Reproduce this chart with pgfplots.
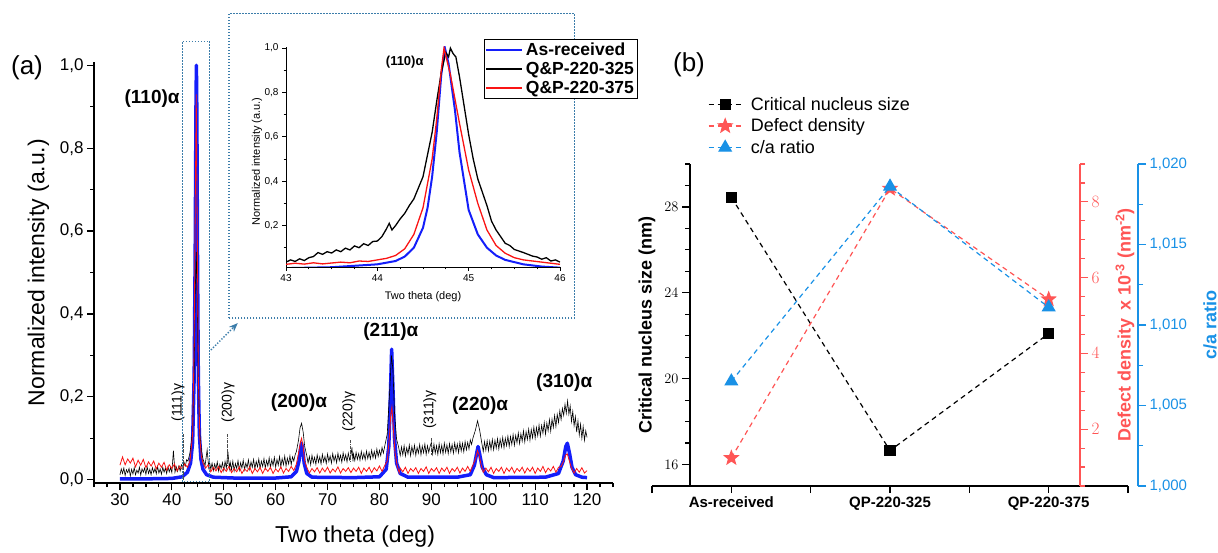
\documentclass[border=0pt]{standalone}
\usepackage{fontspec}
\setmainfont{Liberation Sans}
\usepackage{pgfplots}
\pgfplotsset{compat=1.18}
\usetikzlibrary{arrows.meta}
\newcommand\fs[1]{\fontsize{#1}{#1}\selectfont}
\definecolor{xblue}{RGB}{20,30,250}
\definecolor{xred}{RGB}{250,20,20}
\definecolor{dotbox}{RGB}{60,125,170}
\definecolor{dred}{RGB}{255,85,85}
\definecolor{dblue}{RGB}{25,145,230}
\pgfdeclareplotmark{fstar}{%
  \pgfpathmoveto{\pgfpointpolar{90}{\pgfplotmarksize}}%
  \pgfpathlineto{\pgfpointpolar{126}{0.42\pgfplotmarksize}}%
  \pgfpathlineto{\pgfpointpolar{162}{\pgfplotmarksize}}%
  \pgfpathlineto{\pgfpointpolar{198}{0.42\pgfplotmarksize}}%
  \pgfpathlineto{\pgfpointpolar{234}{\pgfplotmarksize}}%
  \pgfpathlineto{\pgfpointpolar{270}{0.42\pgfplotmarksize}}%
  \pgfpathlineto{\pgfpointpolar{306}{\pgfplotmarksize}}%
  \pgfpathlineto{\pgfpointpolar{342}{0.42\pgfplotmarksize}}%
  \pgfpathlineto{\pgfpointpolar{18}{\pgfplotmarksize}}%
  \pgfpathlineto{\pgfpointpolar{54}{0.42\pgfplotmarksize}}%
  \pgfpathclose\pgfusepathqfillstroke}

\begin{document}
\begin{tikzpicture}
\path[use as bounding box] (0pt,0pt) rectangle (1218pt,552pt);
\node[font=\fs{26}] at (27pt,484pt) {(a)};
\node[font=\fs{26}] at (689pt,487pt) {(b)};

% ---------------- panel (a) main pattern
\begin{axis}[
  at={(94pt,69pt)}, anchor=south west, scale only axis,
  width=519pt, height=421pt,
  xmin=25, xmax=125, ymin=-0.008, ymax=1.008,
  axis x line*=bottom, axis y line*=left,
  axis line style={line width=1.3pt},
  xtick={30,40,...,120}, minor xtick={25,27.5,...,125},
  ytick={0,0.2,0.4,0.6,0.8,1.0}, minor ytick={0.1,0.3,0.5,0.7,0.9},
  tick align=outside, major tick length=7pt, minor tick length=4pt,
  tick style={black, line width=1.2pt},
  tick label style={font=\fs{17}},
  /pgf/number format/assume math mode=true,
  yticklabel style={/pgf/number format/.cd, fixed, fixed zerofill, precision=1, use comma},
  xlabel={Two theta (deg)}, ylabel={Normalized intensity (a.u.)},
  every axis x label/.style={at={(axis description cs:0.503,-0.128)}, anchor=center, font=\fs{23}},
  every axis y label/.style={at={(axis description cs:-0.107,0.5)}, rotate=90, anchor=center, font=\fs{23}},
  clip=false,
]
\addplot[xblue, line width=3.5pt, line join=round] coordinates {
(30,.002)(35,.002)(40,.003)(42,.007)(43,.018)(43.6,.040)(44.0,.090)(44.3,.250)(44.5,.550)
(44.65,.900)(44.73,1.000)(44.82,.880)(44.95,.520)(45.1,.250)(45.3,.110)(45.6,.050)(46.0,.025)
(46.7,.012)(48,.006)(52,.004)(60,.004)(63,.007)(64,.020)(64.5,.045)(64.8,.075)(65.0,.088)
(65.2,.075)(65.5,.040)(66.0,.015)(67,.006)(75,.005)(80,.007)(81.3,.025)(81.8,.080)(82.1,.200)
(82.35,.315)(82.6,.220)(82.9,.100)(83.3,.040)(84,.015)(85.5,.006)(95,.006)(97.5,.012)(98.3,.035)
(98.8,.068)(99.0,.080)(99.3,.062)(99.8,.030)(100.6,.012)(102,.005)(112,.006)(114.5,.015)
(115.4,.045)(115.9,.080)(116.2,.088)(116.6,.065)(117.1,.030)(117.8,.012)(119,.006)(120,.005)};
\addplot[black, line width=0.6pt] coordinates {
(30.00,.012)(30.25,.026)(30.50,.015)(30.75,.028)(31.00,.010)(31.25,.024)(31.50,.017)(31.75,.027)
(32.00,.009)(32.25,.025)(32.50,.014)(32.75,.029)(33.00,.012)(33.25,.023)(33.50,.016)(33.75,.030)
(34.00,.011)(34.25,.026)(34.50,.018)(34.75,.028)(35.00,.013)(35.25,.031)(35.50,.015)(35.75,.025)
(36.00,.012)(36.25,.029)(36.50,.017)(36.75,.027)(37.00,.014)(37.25,.032)(37.50,.016)(37.75,.026)
(38.00,.013)(38.25,.030)(38.50,.018)(38.75,.028)(39.00,.015)(39.25,.031)(39.50,.019)(39.75,.029)
(40.00,.017)(40.30,.070)(40.60,.018)(40.85,.031)(41.10,.020)(41.35,.033)(41.60,.021)(41.85,.036)
(42.10,.030)(42.35,.042)(42.60,.033)(42.85,.048)(43.10,.045)(43.50,.065)
(44.0,.120)(44.3,.260)(44.5,.450)(44.7,.550)(44.9,.430)(45.1,.230)(45.4,.110)(45.7,.070)
(46.0,.050)(46.4,.034)(46.8,.072)(47.1,.030)
(47.25,.044)(47.50,.025)(47.75,.040)(48.00,.022)(48.25,.038)(48.50,.026)(48.75,.043)(49.00,.021)
(49.25,.037)(49.50,.027)(49.75,.041)(50.00,.022)(50.25,.044)(50.50,.028)(50.80,.068)(51.10,.026)
(51.25,.042)(51.50,.024)(51.75,.045)(52.00,.021)(52.25,.039)(52.50,.027)(52.75,.046)(53.00,.023)
(53.25,.041)(53.50,.028)(53.75,.047)(54.00,.024)(54.25,.040)(54.50,.029)(54.75,.048)(55.00,.025)
(55.25,.043)(55.50,.030)(55.75,.049)(56.00,.026)(56.25,.044)(56.50,.031)(56.75,.050)(57.00,.027)
(57.25,.045)(57.50,.032)(57.75,.051)(58.00,.028)(58.25,.046)(58.50,.033)(58.75,.053)(59.00,.029)
(59.25,.048)(59.50,.034)(59.75,.054)(60.00,.030)(60.25,.049)(60.50,.035)(60.75,.056)(61.00,.031)
(61.25,.051)(61.50,.036)(61.75,.057)(62.00,.033)(62.25,.052)(62.50,.038)(62.75,.058)(63.00,.036)
(63.25,.055)(63.50,.045)(63.75,.060)(64.00,.068)
(64.4,.095)(64.7,.125)(65.0,.136)(65.3,.115)(65.6,.080)(66.0,.058)
(66.25,.040)(66.50,.056)(66.75,.036)(67.00,.059)(67.25,.041)(67.50,.054)(67.75,.037)(68.00,.060)
(68.25,.042)(68.50,.055)(68.75,.038)(69.00,.061)(69.25,.043)(69.50,.056)(69.75,.039)(70.00,.062)
(70.25,.044)(70.50,.057)(70.75,.040)(71.00,.063)(71.25,.045)(71.50,.058)(71.75,.041)(72.00,.064)
(72.25,.046)(72.50,.059)(72.75,.042)(73.00,.065)(73.25,.047)(73.50,.060)(73.75,.043)(74.00,.064)
(74.25,.048)(74.50,.058)(74.70,.078)(74.90,.044)(75.00,.062)(75.25,.046)(75.50,.066)(75.75,.049)
(76.00,.063)(76.25,.047)(76.50,.068)(76.75,.050)(77.00,.064)(77.25,.048)(77.50,.069)(77.75,.051)
(78.00,.066)(78.25,.050)(78.50,.071)(78.75,.053)(79.00,.068)(79.25,.052)(79.50,.074)(79.75,.056)
(80.00,.071)(80.25,.058)(80.50,.078)(80.75,.064)(81.00,.080)
(81.5,.110)(82.0,.220)(82.3,.300)(82.6,.265)(82.9,.160)(83.3,.098)(83.7,.078)(84.0,.058)
(84.25,.079)(84.50,.060)(84.75,.082)(85.00,.057)(85.25,.077)(85.50,.062)(85.75,.084)(86.00,.058)
(86.25,.080)(86.50,.063)(86.75,.083)(87.00,.059)(87.25,.078)(87.50,.064)(87.75,.085)(88.00,.060)
(88.25,.081)(88.50,.065)(88.75,.086)(89.00,.061)(89.25,.082)(89.50,.066)(89.75,.080)(90.00,.090)
(90.25,.062)(90.50,.086)(90.75,.064)(91.00,.082)(91.25,.061)(91.50,.087)(91.75,.065)(92.00,.083)
(92.25,.062)(92.50,.088)(92.75,.066)(93.00,.084)(93.25,.063)(93.50,.087)(93.75,.067)(94.00,.085)
(94.25,.064)(94.50,.089)(94.75,.068)(95.00,.086)(95.25,.065)(95.50,.090)(95.75,.069)(96.00,.088)
(96.25,.067)(96.50,.092)(96.75,.072)(97.00,.090)(97.25,.074)(97.50,.096)(97.75,.085)(98.00,.100)
(98.5,.120)(98.9,.142)(99.3,.120)(99.7,.090)
(100.00,.068)(100.25,.092)(100.50,.071)(100.75,.094)(101.00,.070)(101.25,.093)(101.50,.073)(101.75,.097)
(102.00,.072)(102.25,.095)(102.50,.076)(102.75,.099)(103.00,.074)(103.25,.098)(103.50,.079)(103.75,.102)
(104.00,.077)(104.25,.100)(104.50,.082)(104.75,.105)(105.00,.080)(105.25,.104)(105.50,.085)(105.75,.109)
(106.00,.083)(106.25,.107)(106.50,.089)(106.75,.113)(107.00,.087)(107.25,.111)(107.50,.093)(107.75,.118)
(108.00,.091)(108.25,.116)(108.50,.097)(108.75,.122)(109.00,.095)(109.25,.121)(109.50,.101)(109.75,.127)
(110.00,.100)(110.25,.126)(110.50,.106)(110.75,.132)(111.00,.105)(111.25,.131)(111.50,.112)(111.75,.138)
(112.00,.110)(112.25,.137)(112.50,.118)(112.75,.145)(113.00,.117)(113.25,.146)(113.50,.126)(113.75,.155)
(114.00,.128)(114.25,.158)(114.50,.138)(114.75,.166)(115.00,.145)(115.25,.172)(115.50,.155)(115.75,.182)
(116.00,.160)(116.25,.190)(116.50,.158)(116.75,.178)(117.00,.140)(117.25,.165)(117.50,.130)(117.75,.152)
(118.00,.115)(118.25,.142)(118.50,.108)(118.75,.134)(119.00,.100)(119.25,.128)(119.50,.095)(119.75,.118)
(120.00,.102)};
\addplot[xred, line width=0.8pt] coordinates {
(30.0,.035)(30.5,.055)(31.0,.036)(31.5,.050)(32.0,.040)(32.5,.052)(33.0,.031)(33.5,.047)
(34.0,.035)(34.5,.049)(35.0,.029)(35.5,.043)(36.0,.033)(36.5,.045)(37.0,.026)(37.5,.040)
(38.0,.030)(38.5,.042)(39.0,.023)(39.5,.036)(40.0,.027)(40.5,.038)(41.0,.021)(41.5,.033)
(42.0,.025)(42.5,.038)(43.0,.030)(43.5,.045)(44.0,.110)(44.3,.330)(44.5,.650)(44.7,.930)
(44.9,.600)(45.1,.250)(45.4,.100)(45.7,.055)(46.0,.040)(46.5,.028)(47.0,.036)(47.5,.019)
(48.0,.030)(48.5,.021)(49.0,.032)(49.5,.017)(50.0,.028)(50.5,.020)(51.0,.032)(51.5,.017)
(52.0,.027)(52.5,.019)(53.0,.031)(53.5,.015)(54.0,.026)(54.5,.020)(55.0,.031)(55.5,.015)
(56.0,.027)(56.5,.019)(57.0,.030)(57.5,.015)(58.0,.028)(58.5,.020)(59.0,.030)(59.5,.015)
(60.0,.026)(60.5,.019)(61.0,.031)(61.5,.016)(62.0,.027)(62.5,.020)(63.0,.032)(63.5,.022)
(64.0,.038)(64.5,.070)(64.8,.092)(65.0,.100)(65.3,.078)(65.6,.045)(66.0,.030)(66.5,.016)
(67.0,.027)(67.5,.019)(68.0,.029)(68.5,.016)(69.0,.028)(69.5,.019)(70.0,.030)(70.5,.016)
(71.0,.026)(71.5,.019)(72.0,.031)(72.5,.016)(73.0,.027)(73.5,.020)(74.0,.029)(74.5,.017)
(75.0,.028)(75.5,.020)(76.0,.030)(76.5,.015)(77.0,.028)(77.5,.020)(78.0,.030)(78.5,.017)
(79.0,.029)(79.5,.021)(80.0,.033)(80.5,.020)(81.0,.034)(81.5,.045)(81.9,.100)(82.2,.160)
(82.4,.175)(82.7,.120)(83.0,.065)(83.4,.035)(83.8,.017)(84.0,.028)(84.5,.019)(85.0,.030)
(85.5,.015)(86.0,.027)(86.5,.020)(87.0,.029)(87.5,.015)(88.0,.027)(88.5,.020)(89.0,.031)
(89.5,.015)(90.0,.027)(90.5,.020)(91.0,.029)(91.5,.015)(92.0,.028)(92.5,.020)(93.0,.030)
(93.5,.015)(94.0,.027)(94.5,.020)(95.0,.030)(95.5,.016)(96.0,.028)(96.5,.020)(97.0,.032)
(97.5,.020)(98.0,.035)(98.5,.050)(98.9,.070)(99.2,.060)(99.6,.035)(100.0,.018)(100.5,.028)
(101.0,.019)(101.5,.030)(102.0,.015)(102.5,.027)(103.0,.020)(103.5,.030)(104.0,.015)(104.5,.028)
(105.0,.020)(105.5,.030)(106.0,.016)(106.5,.027)(107.0,.020)(107.5,.030)(108.0,.016)(108.5,.028)
(109.0,.020)(109.5,.030)(110.0,.015)(110.5,.028)(111.0,.020)(111.5,.032)(112.0,.017)(112.5,.028)
(113.0,.021)(113.5,.032)(114.0,.018)(114.5,.030)(115.0,.032)(115.5,.045)(115.9,.060)(116.2,.062)
(116.6,.045)(117.0,.028)(117.5,.016)(118.0,.027)(118.5,.018)(119.0,.029)(119.5,.016)(120.0,.022)};
% annotations
\begin{scope}[font=\bfseries\fs{19}]
\node at (axis cs:36.2,0.92) {(110)α};
\node at (axis cs:82.2,0.357) {(211)α};
\node at (axis cs:64.5,0.186) {(200)α};
\node at (axis cs:99.4,0.178) {(220)α};
\node at (axis cs:115.6,0.234) {(310)α};
\end{scope}
\begin{scope}[font=\fs{14}]
\node[rotate=90] at (axis cs:41.2,0.186) {(111)γ};
\node[rotate=90] at (axis cs:50.8,0.186) {(200)γ};
\node[rotate=90] at (axis cs:74.1,0.164) {(220)γ};
\node[rotate=90] at (axis cs:89.7,0.169) {(311)γ};
\end{scope}
\begin{scope}[black!70, densely dashdotted, line width=0.6pt]
\draw (axis cs:42.3,0.11) -- (axis cs:42.3,0.0);
\draw (axis cs:50.6,0.11) -- (axis cs:50.6,0.035);
\draw (axis cs:74.4,0.095) -- (axis cs:74.4,0.045);
\draw (axis cs:90.0,0.10) -- (axis cs:90.0,0.06);
\end{scope}
\begin{scope}[dotbox, line width=1.4pt, dash pattern=on 1.4pt off 1.6pt]
\draw (axis cs:42,-0.005) rectangle (axis cs:47.3,1.058);
\draw (axis cs:51.0,0.39) rectangle (axis cs:117.6,1.125);
\draw[-{Stealth[length=9pt,width=7pt]}] (axis cs:47.5,0.313) -- (axis cs:52.7,0.378);
\end{scope}
\end{axis}

% ---------------- panel (a) inset
\begin{axis}[
  at={(286pt,285pt)}, anchor=south west, scale only axis,
  width=274pt, height=220pt,
  xmin=43, xmax=46, ymin=0.013, ymax=1.005,
  axis x line*=bottom, axis y line*=left,
  axis line style={line width=0.8pt},
  xtick={43,44,45,46}, minor x tick num=3,
  ytick={0.2,0.4,0.6,0.8,1.0}, minor ytick={0.1,0.3,0.5,0.7,0.9},
  tick align=outside, major tick length=4pt, minor tick length=2.5pt,
  tick style={black, line width=0.7pt},
  tick label style={font=\fs{10}},
  /pgf/number format/assume math mode=true,
  yticklabel style={/pgf/number format/.cd, fixed, fixed zerofill, precision=1, use comma},
  xlabel={Two theta (deg)}, ylabel={Normalized intensity (a.u.)},
  every axis x label/.style={at={(axis description cs:0.5,-0.136)}, anchor=center, font=\fs{11}},
  every axis y label/.style={at={(axis description cs:-0.106,0.48)}, rotate=90, anchor=center, font=\fs{11}},
  legend image code/.code={\draw[#1, line width=2pt] (0pt,0pt) -- (36pt,0pt);},
  legend style={at={(0.7226,1.036)}, anchor=north west, draw=black, line width=1pt,
    font=\bfseries\fs{17.5}, inner sep=1pt, row sep=0pt, nodes={inner sep=2.5pt}},
  legend cell align=left,
]
\addplot[xblue, line width=2pt] coordinates {
(43.0,.008)(43.5,.012)(44.0,.025)(44.2,.040)(44.3,.060)(44.4,.100)(44.5,.190)(44.55,.280)
(44.6,.420)(44.65,.620)(44.7,.880)(44.74,1.000)(44.78,.930)(44.85,.720)(44.9,.530)(45.0,.270)
(45.1,.160)(45.2,.100)(45.3,.065)(45.4,.045)(45.6,.025)(45.8,.015)(46.0,.010)};
\addlegendentry{As-received}
\addplot[black, line width=1.3pt] coordinates {
(43.0,.035)(43.05,.045)(43.1,.038)(43.15,.050)(43.2,.042)(43.25,.055)(43.3,.060)(43.35,.078)
(43.4,.070)(43.45,.082)(43.5,.076)(43.55,.090)(43.6,.082)(43.65,.098)(43.7,.090)(43.75,.108)
(43.8,.100)(43.85,.118)(43.9,.110)(43.95,.128)(44.0,.130)(44.05,.150)(44.1,.185)(44.13,.210)
(44.16,.180)(44.2,.200)(44.25,.230)(44.3,.255)(44.35,.290)(44.4,.320)(44.45,.370)(44.5,.420)
(44.55,.520)(44.6,.620)(44.65,.760)(44.7,.890)(44.75,.980)(44.78,.960)(44.8,1.000)(44.83,.975)
(44.86,.960)(44.9,.870)(44.95,.740)(45.0,.610)(45.05,.500)(45.1,.410)(45.15,.350)(45.2,.290)
(45.25,.220)(45.3,.180)(45.35,.150)(45.4,.120)(45.45,.110)(45.5,.092)(45.55,.085)(45.6,.078)
(45.65,.070)(45.7,.062)(45.75,.058)(45.8,.048)(45.85,.055)(45.9,.040)(45.95,.045)(46.0,.035)};
\addlegendentry{Q\&P-220-325}
\addplot[xred, line width=1.3pt] coordinates {
(43.0,.025)(43.1,.030)(43.2,.026)(43.3,.032)(43.4,.027)(43.5,.031)(43.6,.035)(43.7,.032)
(43.8,.040)(43.9,.038)(44.0,.045)(44.1,.052)(44.2,.065)(44.3,.095)(44.4,.160)(44.5,.280)
(44.6,.500)(44.65,.680)(44.7,.900)(44.73,1.000)(44.8,.880)(44.9,.660)(45.0,.450)(45.1,.300)
(45.2,.180)(45.3,.110)(45.4,.075)(45.5,.055)(45.6,.045)(45.7,.040)(45.8,.035)(45.9,.030)(46.0,.025)};
\addlegendentry{Q\&P-220-375}
\node[font=\bfseries\fs{13}] at (axis cs:44.3,0.937) {(110)α};
\end{axis}

% ---------------- panel (b)
% x axis
\begin{axis}[
  at={(652pt,66pt)}, anchor=south west, scale only axis,
  width=476pt, height=322pt,
  xmin=0.5, xmax=3.5, ymin=15, ymax=30,
  axis x line*=bottom, axis y line=none,
  axis line style={line width=1.3pt},
  xtick={0.5,1,...,3.5},
  xticklabels={,As-received,,QP-220-325,,QP-220-375,},
  tick align=outside, major tick length=7pt,
  tick style={black, line width=1.2pt},
  tick label style={font=\bfseries\fs{15}},
]
\end{axis}
% left axis: critical nucleus size
\begin{axis}[
  at={(690pt,66pt)}, anchor=south west, scale only axis,
  width=438pt, height=322pt,
  xmin=0.7395, xmax=3.5, ymin=15, ymax=30,
  axis y line*=left, axis x line=none,
  axis line style={line width=1.3pt},
  ytick={16,20,24,28}, minor ytick={15,16,...,30},
  tick align=outside, major tick length=8pt, minor tick length=5pt,
  tick style={black, line width=1.2pt},
  tick label style={font=\fs{15}},
  ylabel={Critical nucleus size (nm)},
  every axis y label/.style={at={(axis description cs:-0.098,0.5)}, rotate=90, anchor=center, font=\bfseries\fs{18}},
  legend image code/.code={\draw[mark repeat=2,mark phase=2,#1] plot coordinates {(0pt,0pt)(16.5pt,0pt)(33pt,0pt)};},
  legend style={at={(0.034,1.225)}, anchor=north west, draw=none, fill=none,
    font=\fs{18}, row sep=0pt, column sep=5pt, nodes={inner sep=3.5pt}},
  legend cell align=left,
  clip=false,
]
\addplot[black, line width=1.2pt, dash pattern=on 5pt off 4pt, mark=square*, mark size=5pt, mark options={solid, fill=black}]
  coordinates {(1,28.45)(2,16.65)(3,22.1)};
\addlegendentry{Critical nucleus size}
\addlegendimage{dred, line width=1.2pt, dash pattern=on 5pt off 4pt, mark=fstar, mark size=7pt, mark options={solid, fill=dred}}
\addlegendentry{Defect density}
\addlegendimage{dblue, line width=1.2pt, dash pattern=on 5pt off 4pt, mark=triangle*, mark size=7pt, mark options={solid, fill=dblue}}
\addlegendentry{c/a ratio}
\end{axis}
% red axis: defect density
\begin{axis}[
  at={(652pt,66pt)}, anchor=south west, scale only axis,
  width=428pt, height=322pt,
  xmin=0.5, xmax=3.1975, ymin=0.5, ymax=9,
  axis y line*=right, axis x line=none,
  axis line style={dred, line width=1.3pt},
  ytick={2,4,6,8}, minor ytick={0.5,1,...,9},
  tick align=outside, major tick length=8pt, minor tick length=5pt,
  tick style={dred, line width=1.2pt},
  tick label style={font=\fs{16}, text=dred},
  ylabel={Defect density\, x 10\textsuperscript{-3} (nm\textsuperscript{-2})},
  every axis y label/.style={at={(axis description cs:1.105,0.5)}, rotate=90, anchor=center, font=\bfseries\fs{18}, text=dred},
  clip=false,
]
\addplot[dred, line width=1.2pt, dash pattern=on 5pt off 4pt, mark=fstar, mark size=7pt, mark options={solid, fill=dred}]
  coordinates {(1,1.24)(2,8.35)(3,5.43)};
\end{axis}
% blue axis: c/a ratio
\begin{axis}[
  at={(652pt,66pt)}, anchor=south west, scale only axis,
  width=486pt, height=322pt,
  xmin=0.5, xmax=3.563, ymin=1.000, ymax=1.020,
  axis y line*=right, axis x line=none,
  axis line style={dblue, line width=1.3pt},
  ytick={1.000,1.005,1.010,1.015,1.020}, minor ytick={1.0025,1.0075,1.0125,1.0175},
  scaled y ticks=false,
  tick align=outside, major tick length=8pt, minor tick length=5pt,
  tick style={dblue, line width=1.2pt},
  tick label style={font=\fs{15}, text=dblue},
  /pgf/number format/assume math mode=true,
  yticklabel style={/pgf/number format/.cd, fixed, fixed zerofill, precision=3, use comma},
  ylabel={c/a ratio},
  every axis y label/.style={at={(axis description cs:1.148,0.5)}, rotate=90, anchor=center, font=\bfseries\fs{18}, text=dblue},
  clip=false,
]
\addplot[dblue, line width=1.2pt, dash pattern=on 5pt off 4pt, mark=triangle*, mark size=7pt, mark options={solid, fill=dblue}]
  coordinates {(1,1.0065)(2,1.0186)(3,1.0111)};
\end{axis}
\end{tikzpicture}
\end{document}
